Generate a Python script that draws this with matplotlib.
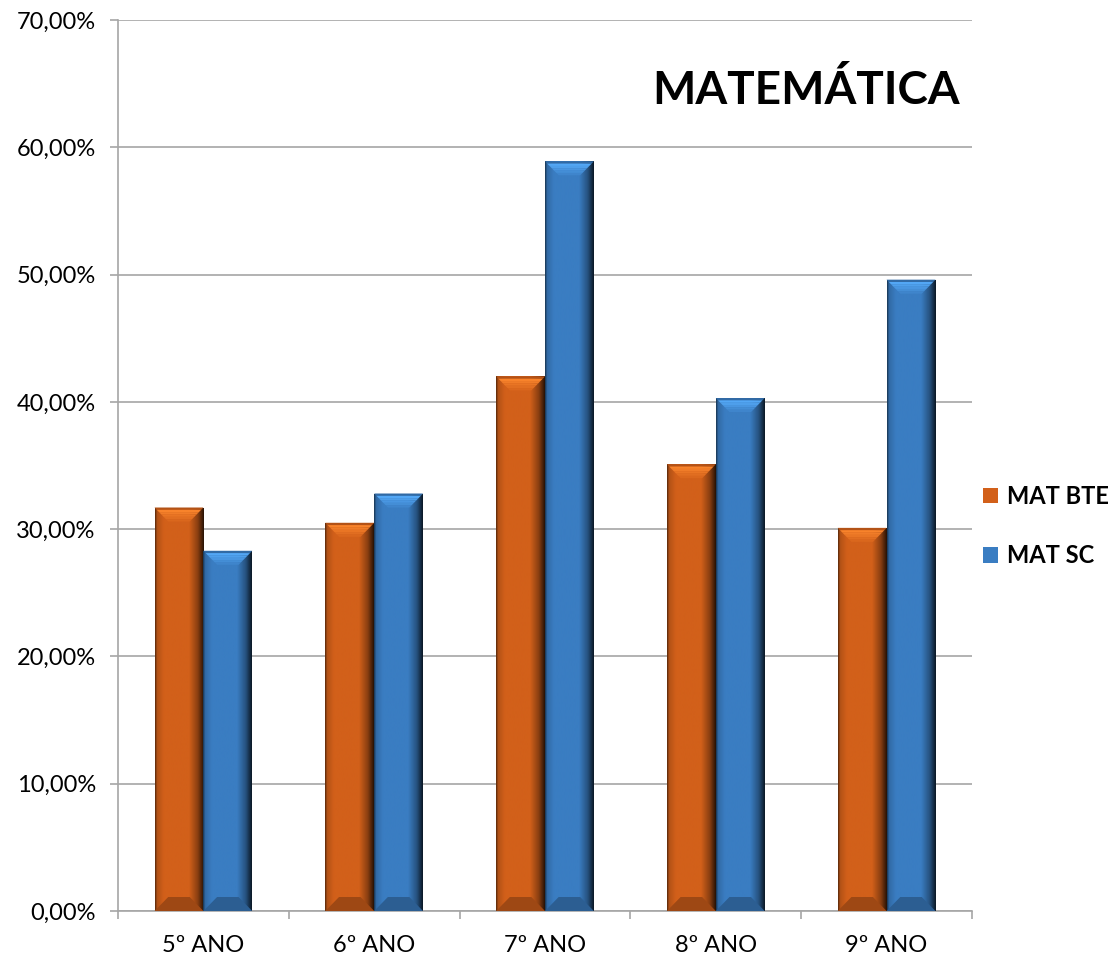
import numpy as np
import matplotlib.pyplot as plt
from matplotlib.colors import to_rgb
from matplotlib.patches import Polygon, Patch
from matplotlib.ticker import FuncFormatter, FixedLocator

anos = ['5º ANO', '6º ANO', '7º ANO', '8º ANO', '9º ANO']
mat_bte = [31.7, 30.5, 42.0, 35.1, 30.1]
mat_sc = [28.3, 32.8, 58.9, 40.3, 49.6]
series = ['MAT BTE', 'MAT SC']
cores = ['#d2601a', '#3a7dc2']

plt.rcParams['font.family'] = ['Lato', 'DejaVu Sans']
fig = plt.figure(figsize=(11.17, 9.58), dpi=100)
ax = fig.add_axes([118/1117, 1-911/958, 854/1117, 891/958])

x = np.arange(len(anos))
w = 0.286


def bisel(ax, bar, cor):
    # imitates the excel 3d bevel of each bar
    x0, bw, bh = bar.get_x(), bar.get_width(), bar.get_height()
    base = np.array(to_rgb(cor))
    t = np.linspace(0, 1, 80)
    f = np.interp(t, [0, 0.04, 0.18, 0.7, 0.88, 1], [0.45, 0.85, 1.0, 1.0, 0.65, 0.2])
    img = np.clip(base[None, :] * f[:, None], 0, 1)[None, :, :]
    im = ax.imshow(img, extent=(x0, x0 + bw, 0, bh), aspect='auto', zorder=3,
                   interpolation='bilinear')
    im.set_clip_path(bar)
    dx, dy = 0.28 * bw, 1.1
    # top bevel with a vertical gradient
    claro = np.clip(base * 1.3 + 0.05, 0, 1)
    n = 6
    for i in range(n):
        a, b = i / n, (i + 1) / n
        c = claro * (1 - a) + base * a if i > 0 else base * 0.85
        ax.add_patch(Polygon([(x0 + a * dx, bh - a * dy), (x0 + bw - a * dx, bh - a * dy),
                              (x0 + bw - b * dx, bh - b * dy), (x0 + b * dx, bh - b * dy)],
                             closed=True, fc=c, ec='none', zorder=4))
    ax.add_patch(Polygon([(x0, 0), (x0 + bw, 0), (x0 + bw - dx, dy), (x0 + dx, dy)],
                         closed=True, fc=base * 0.75, ec='none', zorder=4))


for vals, cor, off in [(mat_bte, cores[0], -w / 2), (mat_sc, cores[1], w / 2)]:
    bars = ax.bar(x + off, vals, w, color=cor, zorder=2)
    for b in bars:
        bisel(ax, b, cor)

ax.set_xlim(-0.5, len(anos) - 0.5)
ax.set_ylim(0, 70)
ax.set_yticks(np.arange(0, 71, 10))
ax.yaxis.set_major_formatter(FuncFormatter(lambda v, p: f'{v:.2f}%'.replace('.', ',')))
ax.set_xticks(x)
ax.set_xticklabels(anos)
ax.xaxis.set_minor_locator(FixedLocator(np.arange(-0.5, len(anos), 1)))
ax.grid(axis='y', color='#a6a6a6', linewidth=1.2, zorder=0)
ax.set_axisbelow(True)

for s in ['top', 'right']:
    ax.spines[s].set_visible(False)
for s in ['left', 'bottom']:
    ax.spines[s].set_color('#a6a6a6')
    ax.spines[s].set_linewidth(1.2)
ax.tick_params(axis='y', length=6, color='#a6a6a6', width=1.2, pad=10, labelsize=17)
ax.tick_params(axis='x', which='major', length=0, pad=17, labelsize=17)
ax.tick_params(axis='x', which='minor', length=6, color='#a6a6a6', width=1.2)

ax.text(0.986, 0.921, 'MATEMÁTICA', transform=ax.transAxes, ha='right', va='center',
        fontsize=33, fontweight='bold')

handles = [Patch(fc=c, ec='none') for c in cores]
fig.legend(handles, series, loc='center left', bbox_to_anchor=(983/1117, 1-526/958),
           frameon=False, prop={'weight': 'bold', 'size': 17},
           handlelength=0.65, handleheight=0.65, handletextpad=0.35, labelspacing=1.55,
           borderpad=0, borderaxespad=0)

fig.savefig('out.png', dpi=100)
